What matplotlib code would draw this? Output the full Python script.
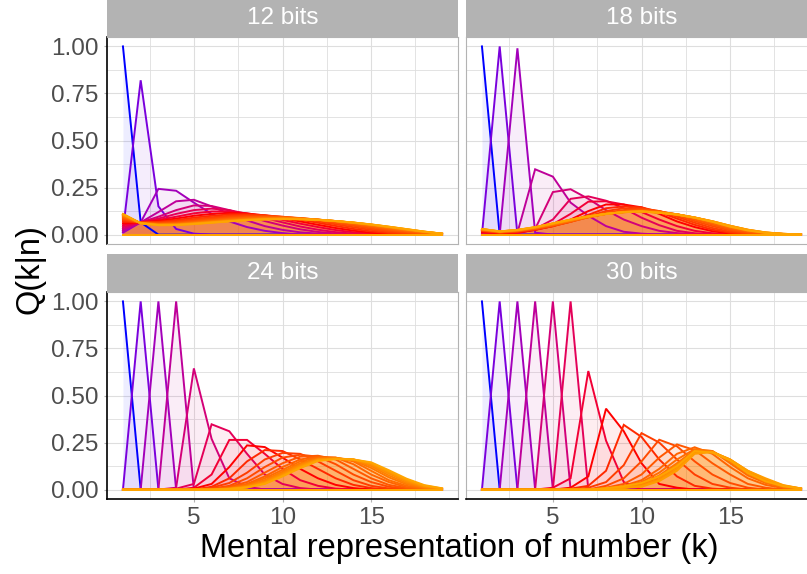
import numpy as np
import matplotlib
matplotlib.use("Agg")
import matplotlib.pyplot as plt

plt.rcParams['font.family'] = ['Liberation Sans', 'DejaVu Sans']

k_values = list(range(1, 20))
panel_titles = ["12 bits", "18 bits", "24 bits", "30 bits"]
x_ticks = [5, 10, 15]
y_ticks = [0.00, 0.25, 0.50, 0.75, 1.00]
y_tick_labels = ["0.00", "0.25", "0.50", "0.75", "1.00"]

Q12 = [
 [1.00,.065,0,0,0,0,0,0,0,0,0,0,0,0,0,0,0,0,0],
 [.020,.820,.150,.030,.005,0,0,0,0,0,0,0,0,0,0,0,0,0,0],
 [.010,.065,.243,.233,.170,.110,.070,.040,.020,.008,0,0,0,0,0,0,0,0,0],
 [.020,.065,.120,.177,.185,.150,.110,.075,.045,.025,.012,.005,0,0,0,0,0,0,0],
 [.030,.065,.095,.130,.155,.152,.130,.100,.072,.048,.028,.014,.006,0,0,0,0,0,0],
 [.040,.065,.085,.110,.130,.138,.130,.110,.088,.065,.043,.026,.013,.005,0,0,0,0,0],
 [.050,.065,.078,.095,.113,.123,.123,.113,.097,.078,.058,.040,.024,.012,.005,0,0,0,0],
 [.060,.065,.072,.085,.100,.110,.115,.112,.102,.087,.070,.052,.035,.021,.010,.004,0,0,0],
 [.068,.065,.068,.077,.090,.100,.107,.108,.103,.093,.079,.063,.046,.030,.017,.008,.003,0,0],
 [.075,.064,.064,.071,.082,.092,.100,.103,.101,.095,.085,.071,.055,.039,.025,.013,.006,.002,0],
 [.081,.064,.061,.066,.076,.086,.094,.098,.098,.094,.087,.076,.062,.047,.032,.019,.010,.004,.001],
 [.086,.063,.058,.062,.071,.080,.088,.093,.095,.093,.088,.079,.067,.053,.039,.025,.014,.006,.002],
 [.091,.063,.056,.059,.067,.076,.084,.090,.092,.091,.087,.080,.070,.058,.044,.030,.018,.009,.003],
 [.095,.062,.055,.057,.064,.072,.080,.086,.089,.089,.086,.080,.071,.061,.048,.034,.022,.011,.004],
 [.099,.062,.054,.055,.062,.070,.077,.083,.087,.087,.085,.079,.072,.062,.050,.037,.024,.013,.004],
 [.102,.061,.053,.054,.060,.068,.075,.081,.085,.086,.084,.079,.072,.063,.052,.039,.026,.014,.005],
 [.105,.061,.052,.053,.059,.066,.073,.079,.083,.085,.083,.079,.072,.063,.053,.040,.027,.015,.005],
 [.107,.060,.051,.052,.058,.065,.072,.078,.082,.084,.083,.078,.072,.064,.053,.041,.028,.015,.005],
 [.109,.060,.050,.051,.057,.064,.071,.077,.081,.083,.082,.078,.072,.064,.054,.042,.029,.016,.005],
 [.110,.060,.050,.050,.056,.063,.070,.076,.080,.082,.081,.078,.072,.064,.054,.042,.029,.016,.005],
]

Q18 = [
 [1.00,0,0,0,0,0,0,0,0,0,0,0,0,0,0,0,0,0,0],
 [0,1.00,0,0,0,0,0,0,0,0,0,0,0,0,0,0,0,0,0],
 [0,0,.990,.010,0,0,0,0,0,0,0,0,0,0,0,0,0,0,0],
 [0,0,.010,.347,.308,.170,.100,.045,.015,.005,0,0,0,0,0,0,0,0,0],
 [0,0,.005,.030,.226,.241,.190,.130,.080,.045,.020,.008,0,0,0,0,0,0,0],
 [0,.005,.010,.030,.080,.190,.203,.180,.140,.090,.050,.020,.007,0,0,0,0,0,0],
 [.010,.005,.010,.025,.055,.110,.175,.177,.160,.120,.080,.045,.020,.007,0,0,0,0,0],
 [.015,.008,.012,.025,.045,.080,.125,.160,.160,.145,.110,.070,.040,.018,.006,0,0,0,0],
 [.018,.010,.014,.026,.045,.070,.105,.140,.150,.145,.120,.085,.052,.026,.010,.003,0,0,0],
 [.020,.011,.016,.028,.045,.068,.097,.125,.140,.140,.125,.095,.063,.035,.015,.005,0,0,0],
 [.022,.012,.018,.030,.047,.068,.093,.117,.130,.135,.125,.102,.072,.045,.022,.008,.003,0,0],
 [.024,.013,.019,.032,.049,.069,.092,.112,.125,.130,.124,.106,.080,.053,.028,.012,.004,0,0],
 [.025,.014,.020,.034,.051,.071,.092,.110,.122,.127,.122,.108,.085,.060,.034,.016,.006,.002,0],
 [.026,.015,.021,.035,.053,.073,.093,.110,.120,.125,.120,.108,.088,.064,.038,.019,.008,.003,0],
 [.027,.015,.022,.036,.055,.075,.094,.110,.119,.124,.119,.108,.090,.067,.042,.022,.009,.003,.001],
 [.028,.016,.023,.037,.056,.076,.095,.110,.119,.123,.118,.108,.091,.069,.045,.024,.010,.004,.001],
 [.029,.016,.024,.038,.058,.078,.096,.110,.119,.123,.117,.107,.091,.070,.046,.025,.011,.004,.001],
 [.029,.017,.024,.039,.059,.079,.096,.110,.120,.123,.117,.107,.091,.071,.047,.026,.011,.004,.001],
 [.030,.017,.025,.039,.059,.079,.097,.110,.120,.123,.116,.106,.090,.071,.047,.026,.012,.004,.001],
 [.030,.017,.025,.040,.060,.080,.097,.110,.120,.123,.116,.106,.090,.068,.042,.022,.009,.003,.001],
]

Q24 = [
 [1.00,0,0,0,0,0,0,0,0,0,0,0,0,0,0,0,0,0,0],
 [0,1.00,0,0,0,0,0,0,0,0,0,0,0,0,0,0,0,0,0],
 [0,0,1.00,0,0,0,0,0,0,0,0,0,0,0,0,0,0,0,0],
 [0,0,0,1.00,0,0,0,0,0,0,0,0,0,0,0,0,0,0,0],
 [0,0,0,.010,.644,.270,.060,.015,0,0,0,0,0,0,0,0,0,0,0],
 [0,0,0,.005,.030,.347,.310,.190,.080,.030,.008,0,0,0,0,0,0,0,0],
 [0,0,0,0,.010,.080,.264,.264,.190,.110,.050,.020,.005,0,0,0,0,0,0],
 [0,0,0,0,.005,.030,.120,.235,.226,.170,.110,.060,.025,.008,0,0,0,0,0],
 [0,0,0,0,0,.015,.060,.150,.210,.205,.160,.110,.060,.025,.008,0,0,0,0],
 [0,0,0,0,0,.010,.035,.090,.160,.195,.190,.150,.100,.050,.020,.006,0,0,0],
 [0,0,0,0,0,.005,.020,.060,.120,.170,.185,.175,.135,.080,.040,.015,.004,0,0],
 [0,0,0,0,0,0,.015,.040,.090,.140,.175,.180,.160,.110,.060,.025,.008,0,0],
 [0,0,0,0,0,0,.010,.030,.070,.120,.160,.175,.170,.135,.080,.040,.013,.004,0],
 [0,0,0,0,0,0,.008,.025,.060,.105,.150,.170,.170,.150,.100,.050,.020,.006,0],
 [0,0,0,0,0,0,.006,.020,.050,.095,.140,.165,.168,.155,.115,.065,.028,.009,.002],
 [0,0,0,0,0,0,.005,.018,.045,.088,.133,.163,.167,.158,.125,.075,.035,.012,.003],
 [0,0,0,0,0,0,.004,.015,.040,.082,.128,.160,.166,.160,.132,.085,.042,.015,.004],
 [0,0,0,0,0,0,.004,.013,.036,.077,.123,.158,.165,.160,.138,.092,.048,.018,.005],
 [0,0,0,0,0,0,.003,.012,.033,.073,.118,.155,.163,.160,.142,.098,.053,.021,.006],
 [0,0,0,0,0,0,.003,.011,.030,.070,.114,.152,.162,.160,.145,.103,.058,.024,.007],
]

Q30 = [
 [1.00,0,0,0,0,0,0,0,0,0,0,0,0,0,0,0,0,0,0],
 [0,1.00,0,0,0,0,0,0,0,0,0,0,0,0,0,0,0,0,0],
 [0,0,1.00,0,0,0,0,0,0,0,0,0,0,0,0,0,0,0,0],
 [0,0,0,1.00,0,0,0,0,0,0,0,0,0,0,0,0,0,0,0],
 [0,0,0,0,1.00,0,0,0,0,0,0,0,0,0,0,0,0,0,0],
 [0,0,0,0,0,1.00,0,0,0,0,0,0,0,0,0,0,0,0,0],
 [0,0,0,0,.010,.060,.630,.260,.040,0,0,0,0,0,0,0,0,0,0],
 [0,0,0,0,0,.010,.070,.430,.310,.140,.030,.010,0,0,0,0,0,0,0],
 [0,0,0,0,0,.005,.020,.100,.344,.280,.160,.070,.020,.005,0,0,0,0,0],
 [0,0,0,0,0,0,.010,.040,.130,.300,.250,.160,.080,.030,.010,0,0,0,0],
 [0,0,0,0,0,0,0,.020,.060,.150,.265,.230,.150,.080,.035,.010,0,0,0],
 [0,0,0,0,0,0,0,.010,.030,.080,.170,.240,.210,.140,.080,.030,.010,0,0],
 [0,0,0,0,0,0,0,0,.020,.050,.110,.190,.225,.190,.120,.060,.025,.008,0],
 [0,0,0,0,0,0,0,0,.015,.040,.090,.160,.215,.205,.140,.075,.035,.012,.003],
 [0,0,0,0,0,0,0,.005,.010,.030,.075,.140,.210,.205,.150,.085,.040,.015,.004],
 [0,0,0,0,0,0,0,.005,.010,.025,.065,.130,.205,.200,.155,.090,.045,.017,.005],
 [0,0,0,0,0,0,0,0,.010,.020,.055,.120,.200,.200,.160,.095,.050,.020,.006],
 [0,0,0,0,0,0,0,0,.010,.020,.050,.110,.195,.200,.160,.100,.055,.022,.006],
 [0,0,0,0,0,0,0,.005,.010,.015,.045,.100,.190,.200,.160,.100,.060,.024,.006],
 [0,0,0,0,0,0,0,.008,.018,.035,.070,.125,.205,.196,.155,.088,.044,.018,.005],
]

panels = [Q12, Q18, Q24, Q30]

# ---- colour scale (Lab interpolation: blue -> red -> orange) ----
_M = np.array([[0.4124, 0.3576, 0.1805], [0.2126, 0.7152, 0.0722], [0.0193, 0.1192, 0.9505]])
_WHITE = np.array([0.95047, 1.0, 1.08883])

def _to_lab(hexc):
    rgb = np.array(matplotlib.colors.to_rgb(hexc))
    lin = np.where(rgb <= 0.04045, rgb / 12.92, ((rgb + 0.055) / 1.055) ** 2.4)
    xyz = _M @ lin / _WHITE
    d = 6 / 29
    f = np.where(xyz > d ** 3, np.cbrt(xyz), xyz / (3 * d * d) + 4 / 29)
    return np.array([116 * f[1] - 16, 500 * (f[0] - f[1]), 200 * (f[1] - f[2])])

def _from_lab(lab):
    L, a, b = lab
    fy = (L + 16) / 116
    f = np.array([fy + a / 500, fy, fy - b / 200])
    d = 6 / 29
    xyz = np.where(f > d, f ** 3, 3 * d * d * (f - 4 / 29)) * _WHITE
    lin = np.clip(np.linalg.inv(_M) @ xyz, 0, 1)
    rgb = np.where(lin <= 0.0031308, 12.92 * lin, 1.055 * lin ** (1 / 2.4) - 0.055)
    return tuple(np.clip(rgb, 0, 1))

anchor_n = [1, 8, 20]
anchor_c = ["#0000FF", "#FF0000", "#FFA500"]
anchor_lab = [_to_lab(c) for c in anchor_c]

def line_colour(n):
    for i in range(len(anchor_n) - 1):
        if anchor_n[i] <= n <= anchor_n[i + 1]:
            t = (n - anchor_n[i]) / (anchor_n[i + 1] - anchor_n[i])
            return _from_lab((1 - t) * anchor_lab[i] + t * anchor_lab[i + 1])
    return anchor_c[-1]

# ---- layout ----
W, H = 807, 574
fig = plt.figure(figsize=(W / 100, H / 100), dpi=100)

def rect(x0, top, w, h):
    return [x0 / W, 1 - (top + h) / H, w / W, h / H]

pw, ph = 351, 207
panel_pos = [(107, 37), (466, 37), (107, 292), (466, 292)]
strip_pos = [(107, 0, 37), (466, 0, 37), (107, 254, 38), (466, 254, 38)]

grid_c = "#DEDEDE"
for idx, (Q, title) in enumerate(zip(panels, panel_titles)):
    x0, top = panel_pos[idx]
    ax = fig.add_axes(rect(x0, top, pw, ph))
    ax.set_xlim(0.1, 19.9)
    ax.set_ylim(-0.05, 1.05)
    ax.set_xticks(x_ticks)
    ax.set_xticks([2.5, 7.5, 12.5, 17.5], minor=True)
    ax.set_yticks(y_ticks)
    ax.set_yticks([0.125, 0.375, 0.625, 0.875], minor=True)
    ax.grid(True, which="major", color=grid_c, lw=0.8)
    ax.grid(True, which="minor", color=grid_c, lw=0.6)
    ax.set_axisbelow(True)
    for s in ax.spines.values():
        s.set_color("#B3B3B3")
        s.set_linewidth(0.8)
    left_col = idx % 2 == 0
    bottom_row = idx >= 2
    if left_col:
        ax.spines["left"].set_color("black")
        ax.spines["left"].set_linewidth(1.2)
        ax.set_yticklabels(y_tick_labels)
    else:
        ax.tick_params(axis="y", which="both", left=False, labelleft=False)
    if bottom_row:
        ax.spines["bottom"].set_color("black")
        ax.spines["bottom"].set_linewidth(1.2)
    else:
        ax.tick_params(axis="x", which="both", bottom=False, labelbottom=False)
    ax.tick_params(which="minor", length=0)
    ax.tick_params(which="major", length=2.5, width=0.8, color="#B3B3B3",
                   labelsize=17.5, labelcolor="#4D4D4D", pad=3.5)

    n_lines = len(Q)
    cols = [line_colour(i + 1) for i in range(n_lines)]
    zero = [0.0] * len(k_values)
    for i in range(n_lines):
        ax.fill_between(k_values, Q[i], 0, color=cols[i], alpha=0.07, lw=0)
    for i in range(n_lines):
        # ribbon outline: upper curve and lower (zero) edge
        ax.plot(k_values, zero, color=cols[i], lw=1.4)
        ax.plot(k_values, Q[i], color=cols[i], lw=1.4, solid_joinstyle="miter")

    sx, stop, sh = strip_pos[idx]
    sax = fig.add_axes(rect(sx, stop, pw, sh))
    sax.set_facecolor("#B3B3B3")
    sax.set_xticks([])
    sax.set_yticks([])
    for s in sax.spines.values():
        s.set_visible(False)
    sax.text(0.5, 0.5, title, color="white", fontsize=17.5, ha="center", va="center",
             transform=sax.transAxes)

fig.text(459 / W, 1 - 548 / H, "Mental representation of number (k)", fontsize=23.5,
         ha="center", va="center", color="black")
fig.text(30 / W, 1 - 269 / H, "Q(k|n)", fontsize=23.5, rotation=90,
         ha="center", va="center", color="black")

fig.savefig("out.png", dpi=100, facecolor="white")
